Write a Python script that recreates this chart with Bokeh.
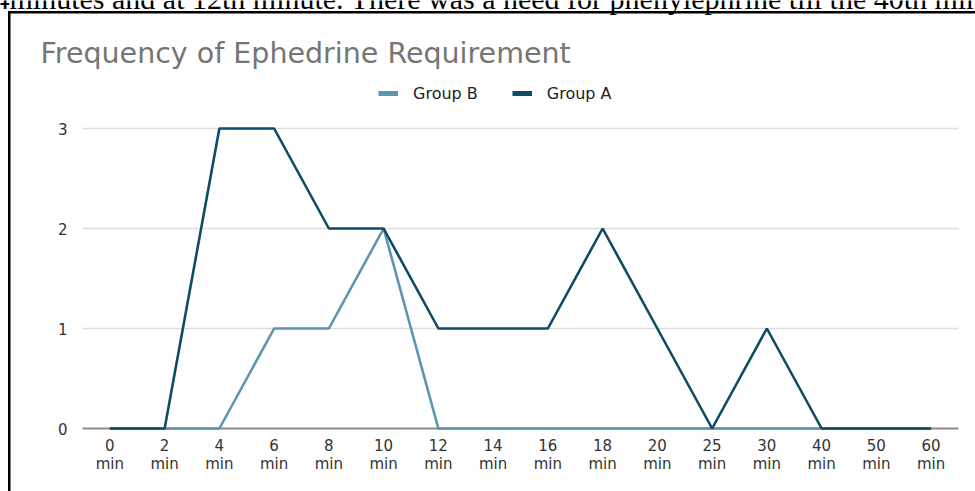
from bokeh.plotting import figure
from bokeh.models import Range1d, FixedTicker, Legend, LegendItem, Label, Grid
from bokeh.embed import file_html
from bokeh.resources import INLINE

categories = ["0", "2", "4", "6", "8", "10", "12", "14", "16", "18", "20", "25", "30", "40", "50", "60"]
group_a = [0, 0, 3, 3, 2, 2, 1, 1, 1, 2, 1, 0, 1, 0, 0, 0]
group_b = [0, 0, 0, 1, 1, 2, 0, 0, 0, 0, 0, 0, 0, 0, 0, 0]
y_ticks = [0, 1, 2, 3]
title_text = "Frequency of Ephedrine Requirement"
doc_text = "4minutes and at 12th minute. There was a need for phenylephrine till the 40th minute"

COL_A = "#0e4b66"
COL_B = "#5b95b4"
FONT = "DejaVu Sans"

W, H = 975, 491
# plot-area geometry (pixels): category band from 82 to 958, y=0 at 428, 100 px per unit
PX_LEFT, PX_RIGHT, PX_ZERO, PX_UNIT = 82, 958, 428, 100
n = len(categories)
ppx = (PX_RIGHT - PX_LEFT) / n
x_start = -0.5 - PX_LEFT / ppx
x_end = n - 0.5 + (W - PX_RIGHT) / ppx
y_start = -(H - PX_ZERO) / PX_UNIT
y_end = PX_ZERO / PX_UNIT

xs = list(range(n))

box_css = ("linear-gradient(#000,#000) 7.5px 11px / 2.5px 100% no-repeat, "
           "linear-gradient(#000,#000) 7.5px 11px / 100% 2.5px no-repeat, #ffffff")

p = figure(width=W, height=H, output_backend="svg", toolbar_location=None,
           x_range=Range1d(x_start, x_end), y_range=Range1d(y_start, y_end),
           title=None, styles={"background": box_css})
p.min_border = 0
p.outline_line_color = None
p.background_fill_alpha = 0
p.border_fill_alpha = 0

# axes placed at fixed positions inside the canvas
p.xaxis.fixed_location = 0
p.xaxis.ticker = FixedTicker(ticks=xs)
p.xaxis.major_label_overrides = {i: f"{c}\nmin" for i, c in enumerate(categories)}
p.xaxis.axis_line_color = None
p.xaxis.major_tick_line_color = None
p.xaxis.minor_tick_line_color = None
p.xaxis.major_label_standoff = 2
p.xaxis.major_label_text_font = FONT
p.xaxis.major_label_text_font_size = "15px"
p.xaxis.major_label_text_line_height = 1.0
p.xaxis.major_label_text_color = "#333333"

p.yaxis.fixed_location = x_start + 77 / ppx
p.yaxis.ticker = FixedTicker(ticks=y_ticks)
p.yaxis.axis_line_color = None
p.yaxis.major_tick_line_color = None
p.yaxis.minor_tick_line_color = None
p.yaxis.major_label_standoff = 4
p.yaxis.major_label_text_font = FONT
p.yaxis.major_label_text_font_size = "15px"
p.yaxis.major_label_text_color = "#333333"

p.xgrid.grid_line_color = None
p.ygrid.ticker = FixedTicker(ticks=y_ticks[1:])
p.ygrid.cross_bounds = (-0.5, n - 0.5)
p.ygrid.grid_line_color = "#dddddd"
p.ygrid.grid_line_width = 1.5

base = Grid(dimension=1, ticker=FixedTicker(ticks=y_ticks[:1]), cross_bounds=(-0.5, n - 0.5),
            grid_line_color="#8a8a8a", grid_line_width=2)
p.add_layout(base)

p.line(xs, group_b, line_color=COL_B, line_width=2.6)
p.line(xs, group_a, line_color=COL_A, line_width=2.6)

lb = p.line(xs[:1], group_b[:1], line_color=COL_B, line_width=5)
la = p.line(xs[:1], group_a[:1], line_color=COL_A, line_width=5)
legend = Legend(items=[LegendItem(label="Group B", renderers=[lb]),
                       LegendItem(label="Group A", renderers=[la])],
                orientation="horizontal", location=(378, H - 103),
                padding=0, margin=0, spacing=34, label_standoff=15,
                glyph_width=20, glyph_height=20,
                label_text_font=FONT, label_text_font_size="16px",
                label_text_color="#222222",
                border_line_color=None, background_fill_alpha=0)
p.add_layout(legend)

p.add_layout(Label(x=40, y=H - 53, x_units="screen", y_units="screen", text=title_text,
                   text_font=FONT, text_font_size="28.5px", text_color="#757575",
                   text_baseline="alphabetic"))
p.add_layout(Label(x=-6, y=H + 2, x_units="screen", y_units="screen", text=doc_text,
                   text_font="Liberation Serif", text_font_size="30px", text_color="#000000",
                   text_baseline="alphabetic"))

open("out.html", "w").write(file_html(p, INLINE))
